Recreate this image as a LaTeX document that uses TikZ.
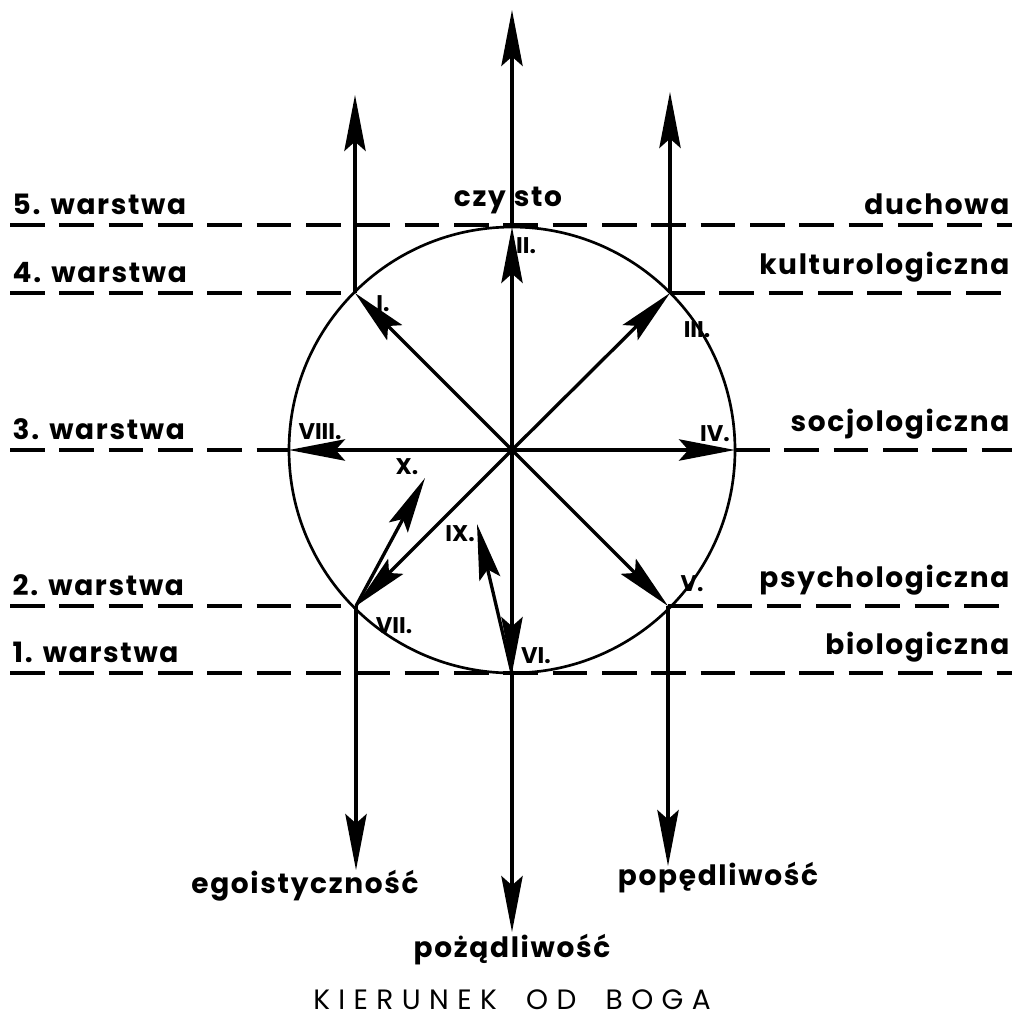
\documentclass[tikz,border=0pt]{standalone}
\usepackage{fontspec}
\setmainfont{Poppins}
\usetikzlibrary{arrows.meta}

\begin{document}
\begin{tikzpicture}[x=0.75pt,y=0.75pt,yscale=-1,xscale=1,
  line width=2.5pt,
  arr/.style={-{Stealth[length=42pt,width=16pt,inset=7pt]}},
  layer/.style={dash pattern=on 26pt off 11pt,line width=2.3pt},
  lbl/.style={inner sep=0.75pt,font=\fontsize{21}{24}\selectfont\bfseries\addfontfeature{LetterSpace=6}},
  pt/.style={inner sep=0.75pt,font=\fontsize{17}{20}\selectfont\bfseries}]
\useasboundingbox (0,0) rectangle (1022,1023);

% Points on the circle
\coordinate (c) at (512,450);
\coordinate (p1) at (355,293);
\coordinate (p2) at (512,227);
\coordinate (p3) at (670,293);
\coordinate (p4) at (735,450);
\coordinate (p5) at (668,606);
\coordinate (p6) at (512,673);
\coordinate (p7) at (356,606);
\coordinate (p8) at (289,450);
% Free ends
\coordinate (t1) at (355,95);
\coordinate (t2) at (512,10);
\coordinate (t3) at (670,92);
\coordinate (t5) at (668,866);
\coordinate (t6) at (512,932);
\coordinate (t7) at (356,870);
\coordinate (tx) at (425,478);
\coordinate (tix) at (477,524);

%Shape: Circle
\draw[line width=2pt] (c) circle [radius=223];

%Dashed lines (layers)
\draw[layer] (10,225) -- (1012,225);
\draw[layer] (10,293) -- (p1);
\draw[layer] (p3) -- (1012,293);
\draw[layer] (10,450) -- (p8);
\draw[layer] (p4) -- (1012,450);
\draw[layer] (10,606) -- (p7);
\draw[layer] (p5) -- (1012,606);
\draw[layer] (10,673) -- (1012,673);

%Straight Lines from the centre
\foreach \p in {p1,p2,p3,p4,p5,p6,p7,p8}
  \draw[arr] (c) -- (\p);
%Straight Lines outwards
\draw[arr] (p1) -- (t1);
\draw[arr] (p2) -- (t2);
\draw[arr] (p3) -- (t3);
\draw[arr] (p5) -- (t5);
\draw[arr] (p6) -- (t6);
\draw[arr] (p7) -- (t7);
\draw[arr] (p7) -- (tx);
\draw[arr] (p6) -- (tix);

% Text Node
\node[lbl,anchor=south west] (w5) at (10,217) {5. warstwa};
\node[lbl,anchor=south west] (w4) at (10,285) {4. warstwa};
\node[lbl,anchor=south west] (w3) at (10,442) {3. warstwa};
\node[lbl,anchor=south west] (w2) at (10,598) {2. warstwa};
\node[lbl,anchor=south west] (w1) at (10,665) {1. warstwa};
% Text Node
\node[lbl,anchor=south east] (duch) at (1012,217) {duchowa};
\node[lbl,anchor=south east] (kult) at (1012,285) {kulturologiczna};
\node[lbl,anchor=south east] (socj) at (1012,442) {socjologiczna};
\node[lbl,anchor=south east] (psych) at (1012,598) {psychologiczna};
\node[lbl,anchor=south east] (biol) at (1012,665) {biologiczna};
\node[lbl,anchor=south] (czys) at (508,217) {czy\hspace{6pt}sto};
% Text Node
\node[pt] (n1) at (383,304) {I.};
\node[pt] (n2) at (526,246) {II.};
\node[pt] (n3) at (697,330) {III.};
\node[pt] (n4) at (715,434) {IV.};
\node[pt] (n5) at (692,584) {V.};
\node[pt] (n6) at (536,656) {VI.};
\node[pt] (n7) at (394,626) {VII.};
\node[pt] (n8) at (320,432) {VIII.};
\node[pt] (n9) at (460,534) {IX.};
\node[pt] (n10) at (407,467) {X.};
% Text Node
\node[lbl] (ego) at (305,886) {egoistyczność};
\node[lbl] (poz) at (512,950) {pożądliwość};
\node[lbl] (pop) at (718,878) {popędliwość};
\node[lbl,font=\fontsize{21}{24}\selectfont\addfontfeature{LetterSpace=30}] (kier) at (512,1000) {KIERUNEK\hspace{22pt}OD\hspace{22pt}BOGA};

\end{tikzpicture}
\end{document}
